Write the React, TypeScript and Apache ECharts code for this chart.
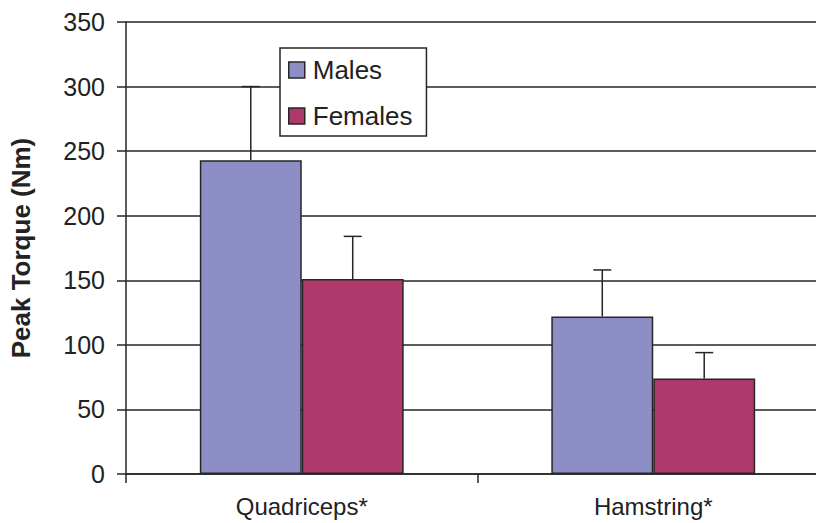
import React, { useEffect, useRef } from "react";
import * as echarts from "echarts";

// Peak torque by muscle group and sex (mean, with +1 SD whiskers)
const categories = ["Quadriceps*", "Hamstring*"];
const seriesNames = ["Males", "Females"];
const malesMean = [243, 122];
const malesSD = [57, 36];
const femalesMean = [151, 74];
const femalesSD = [33, 20];
const yTicks = { min: 0, max: 350, interval: 50 };

const FONT = "'Liberation Sans', Arial, Helvetica, sans-serif";
const INK = "#262626";
const MALE_COLOR = "#8E8EC6";
const FEMALE_COLOR = "#AE396C";

// Each bar takes 29% of the category band (two bars, 42% category gap),
// so its centre sits 14.5% of the band either side of the category centre.
const BAR_SHARE = 0.29;

function makeErrorRenderer(side: number) {
  return (params: any, api: any) => {
    const idx = api.value(0);
    const mean = api.value(1);
    const sd = api.value(2);
    const band = api.size([1, 0])[0];
    const offset = side * band * BAR_SHARE * 0.5;
    const base = api.coord([idx, mean]);
    const top = api.coord([idx, mean + sd]);
    const x = base[0] + offset;
    const half = 9;
    const style = { stroke: INK, lineWidth: 1.5 };
    return {
      type: "group",
      children: [
        { type: "line", shape: { x1: x, y1: base[1], x2: x, y2: top[1] }, style },
        { type: "line", shape: { x1: x - half, y1: top[1], x2: x + half, y2: top[1] }, style },
      ],
    };
  };
}

export default function App() {
  const ref = useRef<HTMLDivElement>(null);

  useEffect(() => {
    if (!ref.current) return;
    const chart = echarts.init(ref.current, null, { renderer: "svg" });

    const malesErr = categories.map((_, i) => [i, malesMean[i], malesSD[i]]);
    const femalesErr = categories.map((_, i) => [i, femalesMean[i], femalesSD[i]]);

    chart.setOption({
      animation: false,
      backgroundColor: "#ffffff",
      textStyle: { fontFamily: FONT },
      // the plot runs past the right edge of the visible frame
      grid: { left: 125, top: 22, width: 704, height: 452, containLabel: false },
      legend: {
        data: seriesNames,
        orient: "vertical",
        left: 280,
        top: 48,
        backgroundColor: "#ffffff",
        borderColor: INK,
        borderWidth: 1.5,
        borderRadius: 0,
        padding: [8, 14, 6, 8],
        itemWidth: 16,
        itemHeight: 16,
        itemGap: 18,
        icon: "rect",
        itemStyle: { borderColor: INK, borderWidth: 1.5 },
        textStyle: { fontFamily: FONT, fontSize: 26, color: "#222", lineHeight: 28, padding: [0, 0, 0, 3] },
        z: 10,
      },
      xAxis: {
        type: "category",
        data: categories,
        boundaryGap: true,
        axisLine: { show: true, lineStyle: { color: INK, width: 1.5 } },
        axisTick: { show: true, alignWithLabel: false, length: 9, lineStyle: { color: INK, width: 1.5 } },
        axisLabel: { fontFamily: FONT, fontSize: 24, color: "#222", margin: 20 },
        splitLine: { show: false },
      },
      yAxis: {
        type: "value",
        min: yTicks.min,
        max: yTicks.max,
        interval: yTicks.interval,
        name: "Peak Torque (Nm)",
        nameLocation: "middle",
        nameGap: 92,
        nameTextStyle: { fontFamily: FONT, fontSize: 26, fontWeight: "bold", color: "#222" },
        axisLine: { show: true, lineStyle: { color: INK, width: 1.5 } },
        axisTick: { show: true, length: 9, lineStyle: { color: INK, width: 1.5 } },
        axisLabel: { fontFamily: FONT, fontSize: 25, color: "#222", margin: 21 },
        splitLine: { show: true, lineStyle: { color: INK, width: 1.5 } },
      },
      series: [
        {
          name: "Males",
          type: "bar",
          data: malesMean,
          barGap: "0%",
          barCategoryGap: "42%",
          itemStyle: { color: MALE_COLOR, borderColor: INK, borderWidth: 1.5 },
          z: 2,
        },
        {
          name: "Females",
          type: "bar",
          data: femalesMean,
          barGap: "0%",
          barCategoryGap: "42%",
          itemStyle: { color: FEMALE_COLOR, borderColor: INK, borderWidth: 1.5 },
          z: 2,
        },
        {
          name: "Males SD",
          type: "custom",
          renderItem: makeErrorRenderer(-1),
          data: malesErr,
          encode: { x: 0, y: 1 },
          z: 3,
          silent: true,
        },
        {
          name: "Females SD",
          type: "custom",
          renderItem: makeErrorRenderer(1),
          data: femalesErr,
          encode: { x: 0, y: 1 },
          z: 3,
          silent: true,
        },
      ],
    });

    return () => chart.dispose();
  }, []);

  return (
    <div
      style={{
        position: "absolute",
        left: 0,
        top: 0,
        width: 816,
        height: 523,
        overflow: "hidden",
        background: "#fff",
      }}
    >
      <div ref={ref} style={{ width: 840, height: 523 }} />
    </div>
  );
}
